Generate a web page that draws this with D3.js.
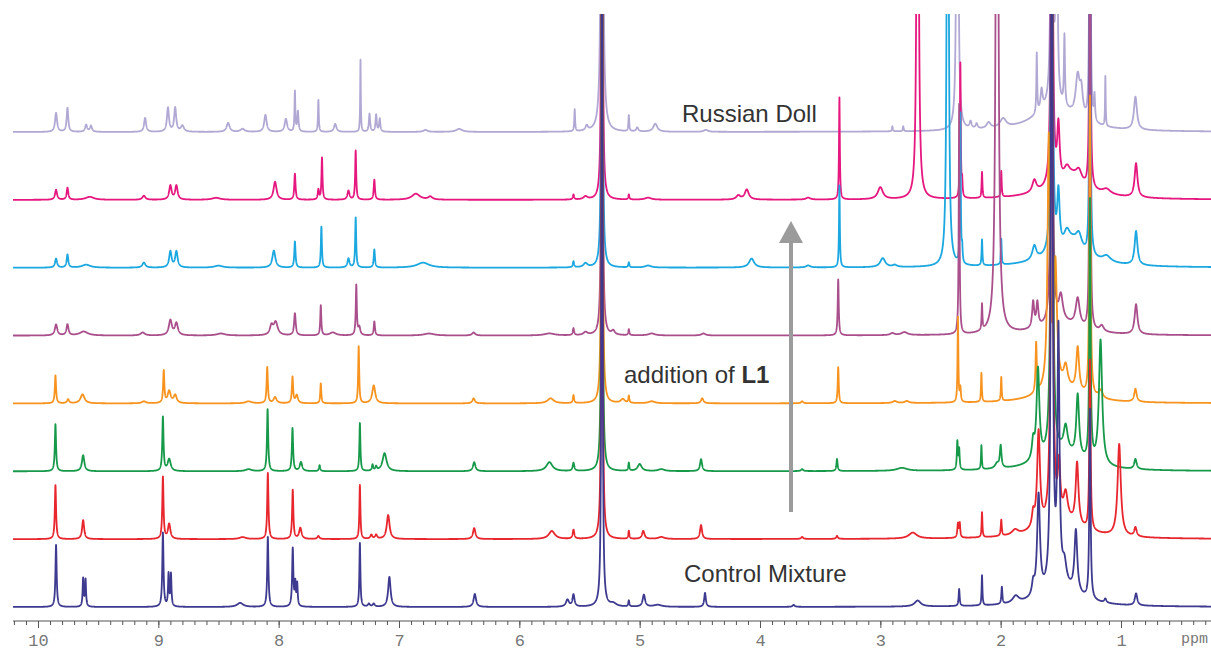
<!DOCTYPE html>
<html>
<head>
<meta charset="utf-8">
<script src="https://cdn.jsdelivr.net/npm/d3@7/dist/d3.min.js"></script>
<style>
  body { margin: 0; background: #fff; }
  svg { display: block; }
</style>
</head>
<body>
<svg></svg>
<script>
var w = 1211, h = 652;

// spectra, bottom (control) to top (russian doll)
var spectra = ["control", "step1", "step2", "step3", "step4", "step5", "step6", "doll"];
var colors = ["#3d3a8f", "#e8262e", "#17994a", "#f7931e", "#a9508c", "#1ba7e0", "#e6177f", "#b2a8d4"];

// peaks: [ppm, height, half width (ppm)]
var peaksControl = [
  [9.85, 62, 0.006], [9.625, 28, 0.005], [9.605, 27, 0.005], [8.962, 74, 0.006], [8.915, 32, 0.005],
  [8.895, 32, 0.005], [8.32, 4, 0.03], [8.09, 70, 0.006], [7.883, 58, 0.006], [7.862, 22, 0.005],
  [7.846, 22, 0.005], [7.325, 64, 0.005], [7.25, 3, 0.01], [7.21, 3, 0.01], [7.08, 30, 0.012],
  [6.37, 13, 0.012], [5.60, 7, 0.015], [5.55, 12, 0.01], [5.313, 1000, 0.004], [5.22, 3, 0.03],
  [5.09, 6, 0.005], [4.965, 12, 0.012], [4.85, 2, 0.04], [4.457, 14, 0.008], [3.72, 2, 0.01],
  [2.69, 6, 0.03], [2.345, 17, 0.005], [2.155, 30, 0.004], [1.99, 17, 0.005], [1.875, 7, 0.03],
  [1.73, 12, 0.012], [1.685, 100, 0.014], [1.575, 900, 0.007], [1.52, 250, 0.01], [1.47, 20, 0.02],
  [1.375, 62, 0.014], [1.258, 190, 0.006], [1.13, 4, 0.01], [0.875, 12, 0.012], [1.5, 18, 0.18]
];
var peaksStep1 = [
  [9.855, 54, 0.006], [9.625, 19, 0.01], [8.962, 62, 0.006], [8.91, 15, 0.012], [8.30, 2, 0.03],
  [8.09, 66, 0.006], [7.883, 49, 0.006], [7.82, 11, 0.012], [7.67, 3, 0.01], [7.325, 54, 0.005],
  [7.23, 4, 0.01], [7.19, 4, 0.01], [7.09, 24, 0.014], [6.375, 11, 0.012], [5.73, 8, 0.03],
  [5.55, 9, 0.008], [5.313, 1000, 0.004], [5.09, 8, 0.005], [4.97, 8, 0.012], [4.82, 2, 0.03],
  [4.49, 14, 0.01], [3.65, 2, 0.01], [3.36, 3, 0.008], [2.73, 6, 0.04], [2.355, 14, 0.006],
  [2.34, 14, 0.005], [2.155, 25, 0.004], [1.995, 16, 0.005], [1.88, 5, 0.03], [1.73, 14, 0.012],
  [1.685, 95, 0.014], [1.575, 900, 0.007], [1.515, 50, 0.012], [1.46, 25, 0.02], [1.365, 62, 0.014],
  [1.258, 170, 0.006], [1.015, 92, 0.016], [0.88, 9, 0.012], [1.5, 18, 0.2]
];
var peaksStep2 = [
  [9.855, 47, 0.006], [9.625, 16, 0.012], [8.962, 54, 0.006], [8.91, 12, 0.015], [8.25, 2, 0.03],
  [8.092, 62, 0.006], [7.885, 43, 0.006], [7.815, 9, 0.012], [7.66, 6, 0.006], [7.325, 48, 0.005],
  [7.22, 6, 0.006], [7.19, 4, 0.008], [7.12, 18, 0.02], [6.375, 9, 0.012], [5.75, 9, 0.03],
  [5.55, 8, 0.008], [5.313, 1000, 0.004], [5.09, 8, 0.005], [5.0, 7, 0.02], [4.82, 2, 0.03],
  [4.49, 12, 0.01], [3.65, 2, 0.01], [3.36, 12, 0.006], [2.82, 3, 0.05], [2.36, 28, 0.005],
  [2.345, 20, 0.005], [2.16, 24, 0.004], [2.03, 5, 0.02], [2.0, 22, 0.008], [1.73, 18, 0.012],
  [1.69, 90, 0.014], [1.575, 900, 0.007], [1.46, 25, 0.02], [1.36, 62, 0.014], [1.258, 260, 0.006],
  [1.17, 125, 0.016], [0.88, 10, 0.012], [1.5, 18, 0.2]
];
var peaksStep3 = [
  [9.855, 28, 0.006], [9.75, 4, 0.01], [9.63, 9, 0.02], [9.12, 2, 0.02], [8.955, 32, 0.006],
  [8.91, 12, 0.015], [8.86, 8, 0.015], [8.25, 2, 0.03], [8.095, 36, 0.006], [8.03, 6, 0.015],
  [7.885, 26, 0.006], [7.85, 8, 0.012], [7.65, 20, 0.005], [7.335, 57, 0.005], [7.21, 18, 0.015],
  [6.38, 5, 0.012], [5.74, 5, 0.03], [5.55, 8, 0.006], [5.313, 1000, 0.004], [5.14, 4, 0.02],
  [5.09, 7, 0.005], [4.9, 2, 0.03], [4.48, 5, 0.012], [3.65, 2, 0.01], [3.35, 36, 0.005],
  [2.88, 2, 0.02], [2.78, 2, 0.02], [2.355, 85, 0.004], [2.335, 14, 0.005], [2.16, 29, 0.004],
  [1.995, 24, 0.004], [1.705, 50, 0.006], [1.60, 250, 0.012], [1.545, 120, 0.015], [1.46, 20, 0.02],
  [1.36, 44, 0.014], [1.258, 300, 0.006], [1.17, 8, 0.02], [0.88, 13, 0.012], [1.5, 15, 0.2]
];
var peaksStep4 = [
  [9.85, 11, 0.012], [9.755, 11, 0.01], [9.62, 4, 0.04], [9.13, 3, 0.02], [8.9, 15, 0.015],
  [8.85, 12, 0.015], [8.48, 2, 0.04], [8.06, 9, 0.015], [8.025, 13, 0.02], [7.865, 22, 0.008],
  [7.65, 30, 0.005], [7.55, 3, 0.03], [7.355, 50, 0.005], [7.33, 8, 0.01], [7.205, 14, 0.006],
  [6.75, 2, 0.05], [6.38, 3, 0.015], [5.75, 2, 0.05], [5.55, 7, 0.006], [5.45, 3, 0.02],
  [5.313, 1000, 0.004], [5.22, 4, 0.015], [5.09, 6, 0.005], [4.9, 2, 0.03], [4.47, 2, 0.02],
  [3.35, 56, 0.005], [2.9, 2, 0.02], [2.8, 3, 0.03], [2.345, 230, 0.004], [2.155, 26, 0.004],
  [2.03, 1000, 0.009], [1.73, 26, 0.01], [1.695, 24, 0.01], [1.575, 800, 0.006], [1.50, 25, 0.02],
  [1.36, 28, 0.02], [1.258, 600, 0.004], [1.16, 6, 0.02], [0.875, 30, 0.014], [1.5, 12, 0.2]
];
var peaksStep5 = [
  [9.85, 9, 0.01], [9.755, 13, 0.008], [9.6, 3, 0.04], [9.12, 5, 0.015], [8.9, 16, 0.012],
  [8.85, 16, 0.012], [8.5, 2, 0.04], [8.04, 17, 0.015], [7.865, 26, 0.006], [7.645, 41, 0.005],
  [7.42, 9, 0.01], [7.36, 50, 0.005], [7.205, 18, 0.006], [6.8, 5, 0.06], [5.55, 6, 0.006],
  [5.45, 4, 0.02], [5.313, 1000, 0.004], [5.09, 5, 0.005], [4.93, 2, 0.03], [4.07, 9, 0.025],
  [3.6, 2, 0.02], [3.34, 82, 0.004], [2.98, 9, 0.025], [2.88, 2, 0.02], [2.44, 1000, 0.006],
  [2.335, 150, 0.004], [2.32, 14, 0.004], [2.155, 26, 0.004], [1.995, 26, 0.004], [1.72, 14, 0.02],
  [1.575, 800, 0.006], [1.52, 55, 0.012], [1.45, 15, 0.03], [1.40, 10, 0.06], [1.35, 15, 0.03],
  [1.258, 600, 0.004], [1.12, 6, 0.04], [0.875, 34, 0.014], [1.45, 14, 0.25]
];
var peaksStep6 = [
  [9.85, 10, 0.01], [9.755, 12, 0.008], [9.57, 3, 0.04], [9.12, 4, 0.015], [8.9, 14, 0.012],
  [8.85, 14, 0.012], [8.52, 2, 0.04], [8.03, 18, 0.015], [7.865, 26, 0.006], [7.67, 10, 0.006],
  [7.64, 42, 0.005], [7.42, 9, 0.01], [7.36, 49, 0.005], [7.205, 20, 0.006], [6.86, 6, 0.04],
  [6.74, 3, 0.02], [5.55, 5, 0.006], [5.45, 3, 0.02], [5.313, 1000, 0.004], [5.09, 5, 0.005],
  [4.93, 2, 0.03], [4.18, 4, 0.02], [4.11, 10, 0.02], [3.6, 2, 0.02], [3.34, 102, 0.004],
  [3.0, 12, 0.025], [2.69, 1000, 0.006], [2.335, 135, 0.004], [2.32, 15, 0.004], [2.155, 26, 0.004],
  [1.995, 26, 0.004], [1.72, 12, 0.02], [1.575, 800, 0.006], [1.52, 55, 0.012], [1.45, 12, 0.03],
  [1.40, 8, 0.06], [1.35, 12, 0.03], [1.258, 600, 0.004], [1.12, 5, 0.04], [0.875, 34, 0.014],
  [1.45, 14, 0.25]
];
var peaksDoll = [
  [9.85, 19, 0.01], [9.755, 24, 0.008], [9.6, 7, 0.01], [9.56, 6, 0.01], [9.11, 14, 0.01],
  [8.92, 24, 0.01], [8.86, 24, 0.01], [8.8, 6, 0.015], [8.42, 9, 0.015], [8.3, 3, 0.02],
  [8.11, 17, 0.012], [7.94, 13, 0.012], [7.865, 40, 0.004], [7.84, 20, 0.006], [7.67, 32, 0.004],
  [7.53, 8, 0.012], [7.32, 72, 0.003], [7.245, 18, 0.006], [7.19, 17, 0.006], [7.16, 13, 0.006],
  [6.78, 2, 0.02], [6.5, 3, 0.03], [5.54, 22, 0.004], [5.44, 5, 0.012], [5.313, 1000, 0.006],
  [5.09, 16, 0.004], [5.02, 4, 0.01], [4.87, 8, 0.02], [4.45, 2, 0.02], [2.9, 5, 0.004],
  [2.81, 5, 0.004], [2.36, 1000, 0.005], [2.25, 7, 0.01], [2.2, 5, 0.01], [2.1, 6, 0.02],
  [1.98, 9, 0.03], [1.70, 60, 0.004], [1.66, 20, 0.01], [1.575, 700, 0.006], [1.535, 500, 0.005],
  [1.47, 70, 0.005], [1.36, 40, 0.02], [1.33, 25, 0.015], [1.258, 600, 0.004], [1.22, 25, 0.005],
  [1.13, 50, 0.003], [0.88, 33, 0.015], [1.55, 25, 0.2]
];
var peakLists = [peaksControl, peaksStep1, peaksStep2, peaksStep3, peaksStep4, peaksStep5, peaksStep6, peaksDoll];

var tickLabels = [10, 9, 8, 7, 6, 5, 4, 3, 2, 1];
var unitLabel = "ppm";
var topLabel = "Russian Doll", bottomLabel = "Control Mixture";
var arrowLabel = "addition of ", arrowLabelBold = "L1";

var svg = d3.select("svg").attr("width", w).attr("height", h);

var x = d3.scaleLinear().domain([10, 1]).range([38, 1121]);
var base = d3.scalePoint().domain(spectra).range([607, 132]);
var amp = d3.scaleLinear().domain([0, 100]).range([0, 100]);

svg.append("defs").append("clipPath").attr("id", "plot-clip")
  .append("rect").attr("x", 12).attr("y", 14).attr("width", w - 12).attr("height", 608);

// evaluate the peak lists on a ppm grid
var ppmLeft = x.invert(13), ppmRight = x.invert(w + 2);
function spectrumPoints(peaks) {
  var grid = d3.range(ppmLeft, ppmRight, -0.001).concat(peaks.map(p => p[0]));
  grid.sort((a, b) => b - a);
  return grid.map(function (p) {
    var v = d3.sum(peaks, k => k[1] / (1 + Math.pow((p - k[0]) / k[2], 2)));
    return [p, v];
  });
}

var plot = svg.append("g").attr("clip-path", "url(#plot-clip)");

// top trace first, control mixture ends up on top
spectra.slice().reverse().forEach(function (name) {
  var i = spectra.indexOf(name);
  var line = d3.line()
    .x(d => x(d[0]))
    .y(d => base(name) - amp(d[1]));
  plot.append("path")
    .datum(spectrumPoints(peakLists[i]))
    .attr("class", "spectrum")
    .attr("d", line)
    .attr("fill", "none")
    .attr("stroke", colors[i])
    .attr("stroke-width", 1.8)
    .attr("stroke-linejoin", "round");
});

// axis
var axisY = 621;
var axisG = svg.append("g").attr("transform", "translate(0," + axisY + ")");
axisG.append("line").attr("x1", 13).attr("x2", w).attr("stroke", "#555").attr("stroke-width", 1);

var minorTicks = d3.range(3, 103).map(d => d / 10).filter(d => x(d) >= 13 && x(d) <= w);
axisG.append("g")
  .call(d3.axisBottom(x).tickValues(minorTicks).tickSize(4).tickFormat(""))
  .call(g => g.select(".domain").remove())
  .selectAll("line").attr("stroke", "#555");
axisG.append("g")
  .call(d3.axisBottom(x).tickValues(tickLabels).tickSize(7).tickPadding(6).tickFormat(d3.format("d")))
  .call(g => g.select(".domain").remove())
  .call(g => g.selectAll("line").attr("stroke", "#555"))
  .selectAll("text")
  .attr("fill", "#777")
  .attr("font-family", "Liberation Mono, monospace")
  .attr("font-size", 17);
axisG.append("text")
  .attr("x", w - 3).attr("y", 22)
  .attr("text-anchor", "end")
  .attr("fill", "#777")
  .attr("font-family", "Liberation Mono, monospace")
  .attr("font-size", 15)
  .text(unitLabel);

// labels
var labelFont = "Liberation Sans, Arial, sans-serif";
svg.append("text").attr("x", 682).attr("y", 122)
  .attr("font-family", labelFont).attr("font-size", 24).attr("fill", "#333")
  .text(topLabel);
svg.append("text").attr("x", 684).attr("y", 582)
  .attr("font-family", labelFont).attr("font-size", 24).attr("fill", "#333")
  .text(bottomLabel);
var addText = svg.append("text").attr("x", 624).attr("y", 383)
  .attr("font-family", labelFont).attr("font-size", 24).attr("fill", "#333");
addText.append("tspan").text(arrowLabel);
addText.append("tspan").attr("font-weight", "bold").text(arrowLabelBold);

// arrow
var arrowX = 791;
svg.append("line").attr("x1", arrowX).attr("x2", arrowX).attr("y1", 512).attr("y2", 240)
  .attr("stroke", "#9b9b9b").attr("stroke-width", 4);
svg.append("path")
  .attr("d", "M" + arrowX + ",221L" + (arrowX - 12) + ",243L" + (arrowX + 12) + ",243Z")
  .attr("fill", "#9b9b9b");
</script>
</body>
</html>
